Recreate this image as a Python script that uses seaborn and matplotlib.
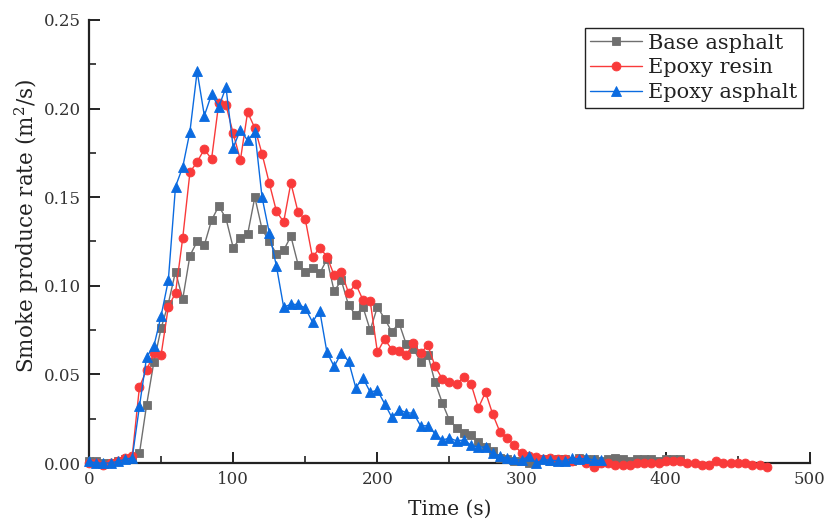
import numpy as np
import pandas as pd
import matplotlib
matplotlib.use("Agg")
import matplotlib.pyplot as plt
import seaborn as sns
from matplotlib.ticker import MultipleLocator

# Sampling interval of the cone calorimeter log (s)
STEP = 5

series_names = ["Base asphalt", "Epoxy resin", "Epoxy asphalt"]

base_asphalt = [
    0.001, 0.001, 0.000, 0.000, 0.001, 0.002, 0.003, 0.0055, 0.033, 0.057,
    0.076, 0.090, 0.108, 0.0925, 0.117, 0.125, 0.123, 0.137, 0.145, 0.138,
    0.1215, 0.127, 0.129, 0.150, 0.132, 0.125, 0.118, 0.120, 0.128, 0.112,
    0.108, 0.110, 0.107, 0.115, 0.097, 0.103, 0.089, 0.0835, 0.088, 0.075,
    0.088, 0.0815, 0.074, 0.079, 0.067, 0.0645, 0.057, 0.061, 0.0455, 0.034,
    0.024, 0.020, 0.017, 0.016, 0.012, 0.009, 0.0065, 0.003, 0.002, 0.001,
    0.001, 0.000, 0.001, 0.002, 0.001, 0.002, 0.002, 0.001, 0.003, 0.002,
    0.002, 0.001, 0.002, 0.003, 0.002, 0.001, 0.002, 0.0025, 0.002, 0.001,
    0.002, 0.0025, 0.002,
]

epoxy_resin = [
    0.000, 0.000, -0.001, 0.000, 0.001, 0.003, 0.004, 0.043, 0.0525, 0.062,
    0.061, 0.088, 0.096, 0.127, 0.164, 0.170, 0.177, 0.1715, 0.203, 0.202,
    0.186, 0.171, 0.198, 0.189, 0.1745, 0.158, 0.142, 0.136, 0.158, 0.1415,
    0.1375, 0.116, 0.1215, 0.1165, 0.106, 0.108, 0.096, 0.101, 0.092, 0.0915,
    0.0625, 0.070, 0.064, 0.063, 0.061, 0.0675, 0.062, 0.0665, 0.0545, 0.0475,
    0.0455, 0.0445, 0.0485, 0.0445, 0.031, 0.040, 0.0275, 0.0175, 0.014, 0.010,
    0.0055, 0.004, 0.0035, 0.002, 0.003, 0.002, 0.002, 0.001, 0.002, 0.000,
    -0.002, 0.000, 0.000, -0.001, -0.001, -0.001, 0.000, 0.000, 0.000, 0.000,
    0.001, 0.001, 0.001, 0.000, 0.000, -0.001, -0.001, 0.001, 0.000, 0.000,
    0.000, 0.000, -0.001, -0.001, -0.002,
]

epoxy_asphalt = [
    0.001, 0.000, 0.000, 0.000, 0.001, 0.002, 0.003, 0.032, 0.060, 0.066,
    0.083, 0.103, 0.156, 0.167, 0.187, 0.221, 0.196, 0.208, 0.201, 0.212,
    0.178, 0.188, 0.182, 0.187, 0.150, 0.130, 0.111, 0.088, 0.0895, 0.0895,
    0.0875, 0.0795, 0.086, 0.0625, 0.0545, 0.062, 0.0575, 0.0425, 0.048, 0.040,
    0.041, 0.0335, 0.0258, 0.030, 0.0285, 0.028, 0.021, 0.021, 0.0165, 0.013,
    0.014, 0.0125, 0.013, 0.010, 0.009, 0.009, 0.0055, 0.004, 0.0026, 0.0023,
    0.0015, 0.004, 0.000, 0.002, 0.0015, 0.0013, 0.001, 0.003, 0.002, 0.003,
    0.0015, 0.0015,
]

x_ticks = [0, 100, 200, 300, 400, 500]
y_ticks = [0.00, 0.05, 0.10, 0.15, 0.20, 0.25]

colors = {"Base asphalt": "#6f6f6f", "Epoxy resin": "#f93a3a", "Epoxy asphalt": "#0b6be0"}
markers = {"Base asphalt": "s", "Epoxy resin": "o", "Epoxy asphalt": "^"}
msizes = {"Base asphalt": 5.6, "Epoxy resin": 6.4, "Epoxy asphalt": 7.6}

frames = []
for name, vals in zip(series_names, [base_asphalt, epoxy_resin, epoxy_asphalt]):
    frames.append(pd.DataFrame({
        "Time": np.arange(len(vals)) * STEP,
        "Rate": vals,
        "Material": name,
    }))
df = pd.concat(frames, ignore_index=True)

sns.set_style("ticks")
plt.rcParams["font.family"] = ["DejaVu Serif"]
plt.rcParams["mathtext.fontset"] = "dejavuserif"

fig = plt.figure(figsize=(8.24, 5.2), dpi=100)
ax = fig.add_axes([0.108, 0.1096, 0.875, 0.852])

for name in series_names:
    sub = df[df["Material"] == name]
    sns.lineplot(
        data=sub, x="Time", y="Rate", ax=ax, color=colors[name],
        marker=markers[name], markersize=msizes[name], markeredgewidth=0.6,
        markeredgecolor=colors[name], linewidth=1.0, label=name,
        estimator=None, sort=False, clip_on=False, zorder=3,
    )

ax.set_xlim(0, 500)
ax.set_ylim(0, 0.25)
ax.set_xticks(x_ticks)
ax.set_yticks(y_ticks)
ax.set_yticklabels([f"{v:.2f}" for v in y_ticks])
ax.xaxis.set_minor_locator(MultipleLocator(50))
ax.yaxis.set_minor_locator(MultipleLocator(0.025))
ax.tick_params(axis="both", which="major", direction="in", length=8, width=1.4,
               labelsize=12, color="#222222", labelcolor="#333333", pad=6)
ax.tick_params(axis="both", which="minor", direction="in", length=5, width=1.2,
               color="#222222")

for side in ["top", "right"]:
    ax.spines[side].set_visible(False)
for side in ["left", "bottom"]:
    ax.spines[side].set_linewidth(1.6)
    ax.spines[side].set_color("#222222")

ax.set_xlabel("Time (s)", fontsize=14.5, color="#222222", labelpad=8)
ax.set_ylabel(r"Smoke produce rate (m$^2$/s)", fontsize=15.5, color="#222222")
ax.yaxis.set_label_coords(-0.066, 0.535)

handles, labels = ax.get_legend_handles_labels()
leg = ax.legend(handles, labels, loc="upper right", bbox_to_anchor=(1.003, 1.002),
                fontsize=15, frameon=True, fancybox=False, framealpha=1,
                edgecolor="#222222", handlelength=2.5, handletextpad=0.3,
                borderpad=0.25, labelspacing=0.28, borderaxespad=0.45)
leg.get_frame().set_linewidth(1.0)
for t in leg.get_texts():
    t.set_color("#222222")

fig.savefig("out.png", dpi=100)
